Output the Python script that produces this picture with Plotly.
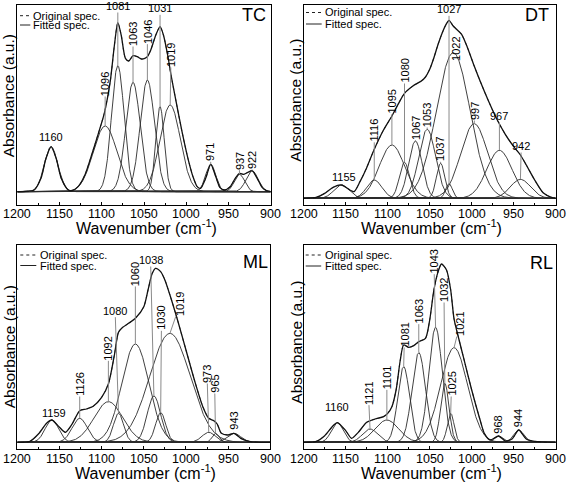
import numpy as np
import plotly.graph_objects as go

# ---------------- data: fitted component peaks (centre cm-1, height a.u., gaussian sigma) ----------------
tc_centers = [1160, 1096, 1081, 1063, 1046, 1031, 1019, 971, 937, 922]
tc_heights = [135, 197, 378, 328, 335, 255, 260, 82, 52, 63]
tc_sigmas = [8, 14, 7.5, 8.5, 8.5, 5, 12, 6, 6, 7]

dt_centers = [1155, 1116, 1095, 1080, 1067, 1053, 1037, 1027, 1022, 997, 967, 942]
dt_heights = [40, 55, 160, 108, 172, 207, 105, 44, 437, 224, 144, 57]
dt_sigmas = [9, 9, 15, 6, 8, 10, 5, 4, 20, 16, 15, 12]

ml_centers = [1159, 1126, 1092, 1080, 1060, 1038, 1030, 1019, 973, 965, 943]
ml_heights = [67, 72, 122, 87, 295, 139, 89, 327, 30, 27, 27]
ml_sigmas = [8, 9, 17, 6, 16, 8, 6, 24, 8, 4, 8]

rl_centers = [1160, 1121, 1101, 1081, 1063, 1043, 1032, 1025, 1021, 968, 944]
rl_heights = [59, 40, 67, 227, 269, 345, 177, 87, 284, 19, 37]
rl_sigmas = [7, 9, 14, 7, 8, 8, 5, 4, 16, 5, 6]

# ---------------- data: spectra envelopes (original / fitted spectrum) ----------------
tc_env_x = [1200, 1190, 1180, 1172, 1166, 1160, 1154, 1148, 1140, 1135, 1128, 1120, 1112, 1104,
            1097, 1090, 1085, 1081, 1077, 1072, 1068, 1063, 1058, 1053, 1049, 1046, 1042, 1036,
            1031, 1027, 1022, 1018, 1012, 1005, 998, 992, 987, 983, 977, 971, 965, 960, 955, 948,
            942, 937, 932, 927, 922, 916, 910, 905, 900]
tc_env_y = [0, 1, 5, 40, 100, 135, 100, 40, 6, 3, 15, 50, 110, 175,
            235, 330, 440, 507, 470, 400, 392, 408, 405, 398, 400, 405, 425, 470,
            495, 470, 410, 350, 270, 180, 100, 45, 15, 10, 40, 82, 45, 12, 5, 15,
            40, 55, 52, 58, 63, 40, 12, 3, 0]

dt_env_x = [1200, 1185, 1175, 1165, 1155, 1145, 1140, 1133, 1125, 1116, 1105, 1095, 1087, 1080,
            1070, 1060, 1055, 1050, 1045, 1040, 1035, 1030, 1027, 1022, 1018, 1012, 1005, 997,
            990, 980, 970, 960, 950, 942, 935, 925, 915, 905, 900]
dt_env_y = [0, 3, 15, 33, 40, 25, 20, 50, 92, 147, 205, 247, 285, 315,
            337, 352, 364, 387, 422, 462, 497, 524, 534, 517, 507, 492, 452, 397,
            352, 292, 237, 192, 155, 130, 100, 55, 17, 3, 0]

ml_env_x = [1200, 1185, 1175, 1165, 1159, 1150, 1143, 1135, 1126, 1118, 1110, 1100, 1092, 1085,
            1080, 1075, 1068, 1060, 1050, 1045, 1040, 1036, 1030, 1025, 1019, 1010, 1000, 990,
            980, 973, 967, 963, 958, 950, 943, 935, 925, 912, 900]
ml_env_y = [0, 3, 25, 58, 67, 45, 30, 55, 95, 100, 108, 135, 175, 260,
            330, 345, 357, 372, 407, 457, 507, 522, 512, 487, 442, 367, 277, 187,
            107, 72, 65, 55, 27, 22, 27, 12, 3, 0, 0]

rl_env_x = [1200, 1185, 1175, 1165, 1160, 1150, 1143, 1135, 1125, 1115, 1105, 1100, 1095, 1090,
            1085, 1081, 1075, 1069, 1063, 1055, 1050, 1045, 1040, 1036, 1030, 1025, 1021, 1015,
            1010, 1000, 990, 985, 978, 968, 960, 952, 944, 935, 925, 900]
rl_env_y = [0, 3, 20, 50, 59, 35, 12, 30, 60, 70, 77, 87, 107, 157,
            247, 292, 285, 290, 302, 312, 367, 457, 512, 535, 517, 457, 370, 307,
            257, 157, 67, 27, 7, 19, 4, 10, 37, 10, 3, 0]

x_ticks = [1200, 1150, 1100, 1050, 1000, 950, 900]
x_tick_labels = ["1200", "1150", "1100", "1050", "1000", "950", "900"]
panel_names = ["TC", "DT", "ML", "RL"]

# ---------------- label placement (layout) ----------------
label_cfg = {
    "TC": dict(lx=[1160, 1096, 1081, 1063, 1046, 1031, 1018, 971, 937, 922],
               ly=[165, 323, 557, 473, 480, 550, 410, 118, 93, 95],
               rot=[0, 1, 0, 1, 1, 0, 1, 1, 1, 1],
               line=[0, 1, 1, 1, 1, 1, 1, 1, 1, 1]),
    "DT": dict(lx=[1152, 1116, 1095, 1080, 1067, 1053, 1037, 1027, 1018, 996, 967, 941],
               ly=[64, 204, 290, 382, 212, 250, 147, 567, 447, 262, 247, 157],
               rot=[0, 1, 1, 1, 1, 1, 1, 0, 1, 1, 0, 0],
               line=[0, 1, 1, 1, 1, 1, 1, 1, 0, 1, 1, 1]),
    "ML": dict(lx=[1157, 1126, 1092, 1084, 1060, 1042, 1029, 1007, 975, 966, 943],
               ly=[89, 175, 282, 395, 505, 547, 372, 415, 205, 175, 65],
               rot=[0, 1, 1, 0, 1, 0, 1, 1, 1, 1, 1],
               line=[0, 1, 1, 1, 1, 1, 1, 1, 1, 1, 0]),
    "RL": dict(lx=[1160, 1123, 1101, 1080, 1063, 1045, 1033, 1024, 1014, 969, 945],
               ly=[107, 149, 195, 322, 392, 542, 457, 175, 355, 52, 72],
               rot=[0, 1, 1, 1, 1, 1, 1, 1, 1, 1, 1],
               line=[0, 1, 1, 1, 1, 1, 1, 1, 1, 0, 0]),
}

W, H = 567, 483
frames = {  # (left, right, top, bottom) in px
    "TC": (17.3, 270.7, 5, 205),
    "DT": (303.7, 555.7, 5, 205),
    "ML": (17.3, 270.3, 245, 449),
    "RL": (303.7, 555.7, 245, 449),
}
yranges = {"TC": [-40, 560], "DT": [-20, 580], "ML": [-20, 592], "RL": [-20, 592]}
tick_label_y = {"TC": 214, "DT": 214, "ML": 459, "RL": 459}
xtitle_y = {"TC": 227, "DT": 227, "ML": 472, "RL": 472}
ytitle_y = {"TC": 96, "DT": 100, "ML": 347, "RL": 342}
legend_px = {  # line start, line end, text start (px from frame left); y offsets from frame top
    "TC": (2.7, 13.0, 13.7, 10.7, 20.0),
    "DT": (2.3, 18.0, 19.5, 7.5, 19.0),
    "ML": (3.0, 19.0, 21.0, 10.0, 20.5),
    "RL": (2.0, 17.5, 19.0, 10.0, 21.0),
}
title_px = {"TC": (254, 15), "DT": (537, 15), "ML": (255, 262), "RL": (541, 263)}

FONT = "Liberation Sans, Arial, Helvetica, sans-serif"
panels = {
    "TC": (tc_centers, tc_heights, tc_sigmas, tc_env_x, tc_env_y),
    "DT": (dt_centers, dt_heights, dt_sigmas, dt_env_x, dt_env_y),
    "ML": (ml_centers, ml_heights, ml_sigmas, ml_env_x, ml_env_y),
    "RL": (rl_centers, rl_heights, rl_sigmas, rl_env_x, rl_env_y),
}

xs = np.linspace(1200, 900, 1201)
fig = go.Figure()
annotations = []
shapes = []
layout_axes = {}

for i, name in enumerate(panel_names):
    c, h, s, ex, ey = panels[name]
    suffix = "" if i == 0 else str(i + 1)
    xa, ya = "x" + suffix, "y" + suffix
    for cc, hh, ss in zip(c, h, s):
        comp = hh * np.exp(-0.5 * ((xs - cc) / ss) ** 2)
        fig.add_trace(go.Scatter(x=xs, y=comp, mode="lines", xaxis=xa, yaxis=ya,
                                 line=dict(color="#2b2b2b", width=0.9), showlegend=False,
                                 hoverinfo="skip"))
    fig.add_trace(go.Scatter(x=ex, y=ey, mode="lines", xaxis=xa, yaxis=ya,
                             line=dict(color="#555555", width=1, dash="dot", shape="spline",
                                       smoothing=0.7),
                             showlegend=False, name="Original spec."))
    fig.add_trace(go.Scatter(x=ex, y=ey, mode="lines", xaxis=xa, yaxis=ya,
                             line=dict(color="#111111", width=1.3, shape="spline", smoothing=0.7),
                             showlegend=False, name="Fitted spec."))

    l, r, t, b = frames[name]
    layout_axes["xaxis" + suffix] = dict(
        domain=[l / W, r / W], anchor=ya, range=[1200, 900], tickvals=x_ticks,
        showticklabels=False, ticks="inside", ticklen=3, tickwidth=1, tickcolor="black",
        minor=dict(tickvals=[1175, 1125, 1075, 1025, 975, 925], ticks="inside", ticklen=2,
                   tickcolor="black"),
        showline=True, linecolor="black", linewidth=1, mirror=True, showgrid=False,
        zeroline=False)
    layout_axes["yaxis" + suffix] = dict(
        domain=[1 - b / H, 1 - t / H], anchor=xa, range=yranges[name],
        showticklabels=False, ticks="", showline=True, linecolor="black", linewidth=1,
        mirror=True, showgrid=False, zeroline=False)

    # tick labels
    for tv, tl in zip(x_ticks, x_tick_labels):
        annotations.append(dict(text=tl, x=tv, xref=xa, y=1 - tick_label_y[name] / H,
                                yref="paper", xanchor="center", yanchor="middle",
                                showarrow=False, font=dict(family=FONT, size=12.5, color="black")))

    # peak labels
    cfg = label_cfg[name]
    for k, cc in enumerate(c):
        common = dict(text=str(cc), xref=xa, yref=ya, textangle=-90 if cfg["rot"][k] else 0,
                      font=dict(family=FONT, size=11, color="black"))
        if cfg["line"][k]:
            annotations.append(dict(x=cc, y=h[k], ax=cfg["lx"][k], ay=cfg["ly"][k],
                                    axref=xa, ayref=ya, showarrow=True, arrowhead=0,
                                    arrowwidth=1, arrowcolor="#8a8a8a", standoff=0,
                                    borderpad=0, **common))
        else:
            annotations.append(dict(x=cfg["lx"][k], y=cfg["ly"][k], showarrow=False,
                                    xanchor="center", yanchor="middle", **common))

    # legend (drawn)
    x0, x1, xt, y1, y2 = legend_px[name]
    for yoff, dash, label in [(y1, "dot", "Original spec."), (y2, "solid", "Fitted spec.")]:
        yy = 1 - (t + yoff) / H
        shapes.append(dict(type="line", xref="paper", yref="paper",
                           x0=(l + x0) / W, x1=(l + x1) / W, y0=yy, y1=yy,
                           line=dict(color="#222222", width=1, dash=dash)))
        annotations.append(dict(text=label, xref="paper", yref="paper", x=(l + xt) / W, y=yy,
                                xanchor="left", yanchor="middle", showarrow=False,
                                font=dict(family=FONT, size=11, color="black")))
    # panel title
    tx, ty = title_px[name]
    annotations.append(dict(text=name, xref="paper", yref="paper", x=tx / W, y=1 - ty / H,
                            xanchor="center", yanchor="middle", showarrow=False,
                            font=dict(family=FONT, size=18, color="black")))
    # axis titles
    annotations.append(dict(text="Wavenumber (cm<sup>-1</sup>)", xref="paper", yref="paper",
                            x=((l + r) / 2 + 2) / W, y=1 - xtitle_y[name] / H, xanchor="center",
                            yanchor="middle", showarrow=False,
                            font=dict(family=FONT, size=16, color="black")))
    annotations.append(dict(text="Absorbance (a.u.)", xref="paper", yref="paper",
                            x=(l - 8) / W, y=1 - ytitle_y[name] / H, xanchor="center",
                            yanchor="middle", textangle=-90, showarrow=False,
                            font=dict(family=FONT, size=15.5, color="black")))

fig.update_layout(width=W, height=H, margin=dict(l=0, r=0, t=0, b=0),
                  plot_bgcolor="white", paper_bgcolor="white", showlegend=False,
                  hovermode=False,
                  annotations=annotations, shapes=shapes, **layout_axes)
fig.write_html("out.html", config={"displayModeBar": False, "staticPlot": True},
               post_script="document.body.style.margin='0';document.body.style.overflow='hidden';")
